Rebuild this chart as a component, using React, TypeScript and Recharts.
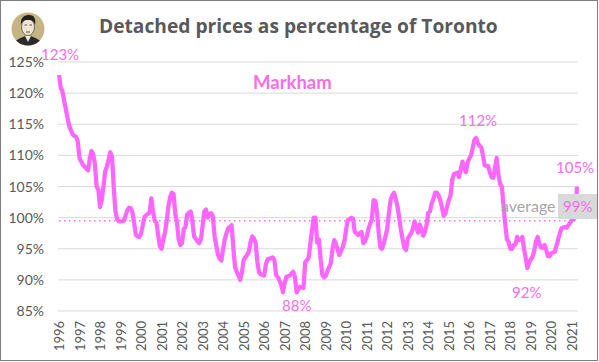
import React from "react";
import { LineChart, Line, XAxis, YAxis, CartesianGrid } from "recharts";

const y1996 = [122.9,120.9,120.3,118.8,117.4,116,114.7,114,113.4,113.1,113,112.2];
const y1997 = [109.5,109,108.5,108.2,107.9,107.6,109.5,110.7,110.2,108.6,105,104.5];
const y1998 = [101.7,102.8,105,107.4,108.2,109.3,110.5,109.8,105,101,99.8,99.4];
const y1999 = [99.4,99.4,99.5,100.4,101.2,101.6,101.5,100.8,99,97.2,97,96.9];
const y2000 = [97.4,98.8,100.1,100.4,100.6,100.8,103.1,101,99.5,99.2,97.2,95.4];
const y2001 = [95,96.5,97.6,99.5,101.8,103.3,104,103.8,100.7,99.2,96.5,95.6];
const y2002 = [95.9,98.2,98.5,100.5,100.8,101,99.5,97,96.6,96.2,95.9,96.5];
const y2003 = [98.7,101,101.3,100,100.6,100.7,100.2,97,95.5,94,93.4,93.1];
const y2004 = [95,96.6,97.5,98.3,98.5,98.8,95,92,91.3,90.7,90,91.2];
const y2005 = [93.2,93.6,94,94.5,96,97,96.7,96,93,91.2,90.9,90.8];
const y2006 = [90.7,92.5,93.3,93.4,93.5,93.6,93.2,90.8,90.4,89.9,89.2,88];
const y2007 = [89.5,90.5,90.6,90.7,91,91.3,90.5,88,88.5,88.9,88.8,88.7];
const y2008 = [92.8,93.2,93.5,95.8,98,100,100,96,96.5,93.5,90.8,90.4];
const y2009 = [90.6,91.4,92,92.7,95,96.4,95.8,94.8,94,94.7,95.3,96.3];
const y2010 = [98.2,99.6,99.8,100,99.8,97.7,97.5,97.2,97.5,97.7,95.9,96.2];
const y2011 = [96.9,98.2,99,99.7,102.8,102.7,101,97.5,95.2,95,95.9,97];
const y2012 = [98.2,100.8,102.9,103.6,104,103,101.8,100,98,96.5,95.2,94.8];
const y2013 = [96.6,97.1,97.5,98.2,99.4,98.5,97.6,98.9,98,97.1,97.7,98.8];
const y2014 = [100.8,101,102.3,103,104,104,103.6,102.8,101.7,100.3,100.6,101.8];
const y2015 = [102.8,103.5,106,107,107.1,107.2,106.5,107.8,109,108,107.3,108.8];
const y2016 = [109.5,110,111.2,112.5,112.8,112,111.5,111.3,110,108.4,108.3,108.3];
const y2017 = [107.3,106.5,106.4,108,109.6,107,105.4,105,102,99,96.5,96.1];
const y2018 = [95,95,95.6,95.7,96.9,96.4,96.5,96.9,95,93.5,91.9,92.8];
const y2019 = [93.3,93.7,94.7,96.2,96.9,95.8,95.2,95.2,95.6,94.8,93.8,93.8];
const y2020 = [94.3,94.4,94.5,95.5,96.5,97.5,98.3,98.4,98.5,98.4,98.8,99.2];
const y2021 = [99.6,99.8,100,105];

const years = [1996,1997,1998,1999,2000,2001,2002,2003,2004,2005,2006,2007,2008,2009,2010,2011,2012,2013,2014,2015,2016,2017,2018,2019,2020,2021];
const seriesByYear = [y1996,y1997,y1998,y1999,y2000,y2001,y2002,y2003,y2004,y2005,y2006,y2007,y2008,y2009,y2010,y2011,y2012,y2013,y2014,y2015,y2016,y2017,y2018,y2019,y2020,y2021];
const AVERAGE = 99.5;
const yTicks = [85,90,95,100,105,110,115,120,125];

const rows = seriesByYear.flatMap((vals, i) =>
  vals.map((v, m) => ({ key: `${years[i]}-${m + 1}`, year: years[i], month: m, price: v, avg: AVERAGE }))
);

const PINK = "#FF66FF";
const LABEL = "#F56EE8";
const FONT = "Lato, 'Open Sans', sans-serif";

const YearTick = (props: any) => {
  const { x, y, payload } = props;
  const label = String(payload.value).slice(0, 4);
  return (
    <text x={0} y={0} transform={`translate(${x + 5},${y + 32}) rotate(-90)`} fontFamily={FONT} fontSize={13} fill="#595959">
      {label}
    </text>
  );
};

const YTick = (props: any) => {
  const { x, y, payload } = props;
  return (
    <text x={44} y={y + 5} textAnchor="end" fontFamily={FONT} fontSize={14} fill="#595959">
      {payload.value}%
    </text>
  );
};

const Text = ({ x, y, w, children, style }: any) => (
  <div style={{ position: "absolute", left: x, top: y, width: w, whiteSpace: "nowrap", fontFamily: FONT, lineHeight: 1, ...style }}>{children}</div>
);

const Portrait = () => (
  <svg width={34} height={34} viewBox="0 0 34 34" style={{ position: "absolute", left: 11, top: 12 }}>
    <clipPath id="pc"><circle cx={17} cy={17} r={16.5} /></clipPath>
    <g clipPath="url(#pc)">
      <rect width={34} height={34} fill="#C6B483" />
      <path d="M2 34 C4 27 10 26 14 24 L20 24 C24 26 30 27 32 34 Z" fill="#2b2b2b" />
      <path d="M14 24 L17 30 L20 24 Z" fill="#efe9da" />
      <ellipse cx={17} cy={15} rx={6.5} ry={8.5} fill="#efe6d2" stroke="#333" strokeWidth={0.6} />
      <path d="M10 13 C9 5 14 3 18 3 C24 3 25 8 24 13 C23 9 21 8 17 8 C13 8 11 9 10 13 Z" fill="#26221d" />
      <path d="M13.5 13 h2.5 M18.5 13 h2.5 M15 20 h4" stroke="#333" strokeWidth={0.8} />
    </g>
  </svg>
);

export default function App() {
  return (
    <div style={{ position: "absolute", left: 0, top: 0, width: 599, height: 362, background: "#fff", overflow: "hidden" }}>
      <LineChart width={599} height={362} data={rows} margin={{ top: 62, right: 21, bottom: 0, left: 0 }}>
        <CartesianGrid vertical={false} stroke="#D9D9D9" strokeWidth={1} />
        <XAxis dataKey="key" scale="point" padding={{ left: 1, right: 1 }} interval={11} axisLine={false} tickLine={false} tick={<YearTick />} height={51} />
        <YAxis domain={[85, 125]} ticks={yTicks} width={58} axisLine={false} tickLine={false} tick={<YTick />} />
        <Line dataKey="avg" stroke={PINK} strokeWidth={1.5} strokeDasharray="1.5 3.5" dot={false} isAnimationActive={false} />
        <Line dataKey="price" stroke={PINK} strokeWidth={4.25} strokeLinejoin="round" strokeLinecap="butt" dot={false} isAnimationActive={false} />
      </LineChart>
      <div style={{ position: "absolute", left: 558, top: 194, width: 39, height: 25, background: "#D9D9D9" }} />
      <Text x={501} y={198} style={{ fontSize: 16, color: "#A6A6A6" }}>average</Text>
      <Text x={563} y={199} style={{ fontSize: 15, color: LABEL }}>99%</Text>
      <Text x={41} y={47} style={{ fontSize: 15, color: LABEL }}>123%</Text>
      <Text x={459} y={113} style={{ fontSize: 15, color: LABEL }}>112%</Text>
      <Text x={556} y={160} style={{ fontSize: 15, color: LABEL }}>105%</Text>
      <Text x={282} y={298} style={{ fontSize: 15, color: LABEL }}>88%</Text>
      <Text x={512} y={285} style={{ fontSize: 15, color: LABEL }}>92%</Text>
      <Text x={253} y={73} style={{ fontSize: 18.5, fontWeight: 700, color: LABEL }}>Markham</Text>
      <Text x={99} y={16} style={{ fontFamily: "'Open Sans', sans-serif", fontSize: 19.2, fontWeight: 700, color: "#595959" }}>Detached prices as percentage of Toronto</Text>
      <Portrait />
      <div style={{ position: "absolute", left: 0, top: 0, width: 596, height: 359, border: "1px solid #7F7F7F", boxSizing: "content-box" }} />
    </div>
  );
}
